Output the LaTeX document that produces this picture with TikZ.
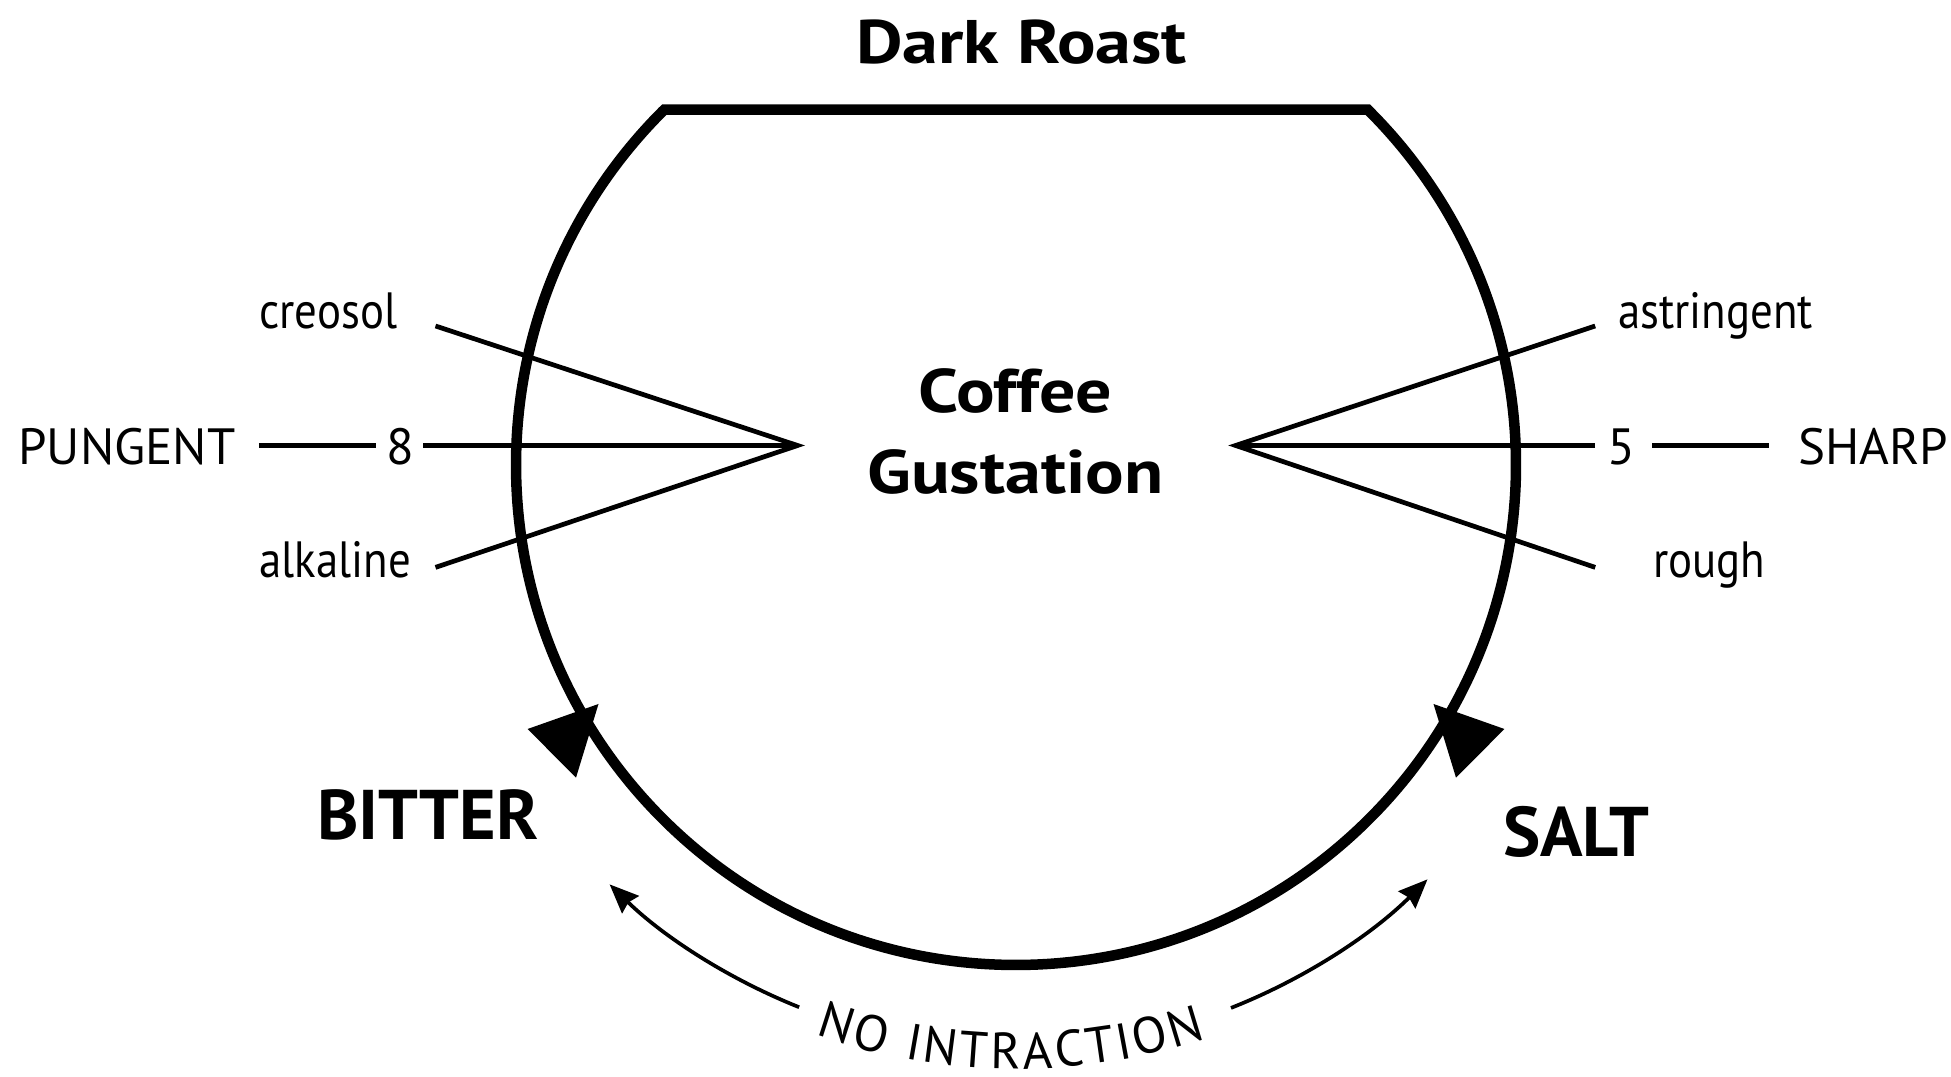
\documentclass[tikz,border=0pt]{standalone}
\usepackage{fontspec}
\setmainfont{PT Sans}
\newfontfamily\wideb[FakeStretch=1.17]{PT Sans}
\newfontfamily\narrowf[FakeStretch=0.88]{PT Sans}
\usetikzlibrary{arrows.meta,decorations.text,calc}
\begin{document}
\begin{tikzpicture}[
  body/.style={line width=0.105cm, line join=miter},
  conn/.style={line width=0.047cm},
  lbl/.style={font=\fontsize{14.5}{17}\selectfont, inner sep=0pt},
  sml/.style={font=\narrowf\fontsize{14.5}{17}\selectfont, inner sep=0pt},
  ttl/.style={font=\wideb\bfseries\fontsize{17.5}{20}\selectfont, inner sep=0pt},
  big/.style={font=\bfseries\fontsize{20}{24}\selectfont, inner sep=0pt},
  thinarrow/.style={line width=0.037cm, -{Stealth[length=0.29cm, width=0.24cm, inset=0.03cm]}},
  head/.style={fill=black},
]
\useasboundingbox (0,0) rectangle (19.51,10.77);
\coordinate (C) at (10.16,6.12);
% body outline
\draw[body] ($(C)+(134.7:5)$) arc[start angle=134.7, end angle=405.3, radius=5] -- cycle;

% apex points and line ends
\coordinate (LA) at (7.976,6.315);
\coordinate (RA) at (12.356,6.315);
\coordinate (lc) at (4.355,7.51);
\coordinate (la) at (4.355,5.096);
\coordinate (lm) at (4.23,6.315);
\coordinate (rc) at (15.952,7.51);
\coordinate (rr) at (15.952,5.096);
\coordinate (rm) at (15.952,6.315);
\coordinate (pl1) at (2.588,6.315);
\coordinate (pl2) at (3.758,6.315);
\coordinate (sr1) at (16.524,6.315);
\coordinate (sr2) at (17.694,6.315);

\draw[conn] (lc) -- (LA) -- (la);
\draw[conn] (lm) -- (LA);
\draw[conn] (pl1) -- (pl2);
\draw[conn] (rc) -- (RA) -- (rr);
\draw[conn] (rm) -- (RA);
\draw[conn] (sr1) -- (sr2);

% labels
\node[lbl, anchor=base] (pungent) at (1.27,6.12) {PUNGENT};
\node[lbl, anchor=base] (n8) at (4.007,6.12) {8};
\node[sml, anchor=base west] (creosol) at (2.588,7.485) {creosol};
\node[sml, anchor=base west] (alkaline) at (2.588,4.996) {alkaline};
\node[lbl, anchor=base] (sharp) at (18.733,6.12) {SHARP};
\node[lbl, anchor=base] (n5) at (16.213,6.12) {5};
\node[sml, anchor=base west] (astringent) at (16.176,7.485) {astringent};
\node[sml, anchor=base west] (rough) at (16.524,4.996) {rough};

\node[ttl, anchor=base] (coffee) at (10.154,6.64) {Coffee};
\node[ttl, anchor=base] (gust) at (10.154,5.83) {Gustation};
\node[ttl, anchor=base] (dark) at (10.216,10.135) {Dark Roast};
\node[big, anchor=base] (bitter) at (4.28,2.37) {BITTER};
\node[big, anchor=base] (salt) at (15.765,2.20) {SALT};

% big arrowheads on the body
\fill[head] (5.276,3.48) -- (5.985,3.73) -- (5.76,2.993) -- cycle;
\fill[head] (15.044,3.48) -- (14.335,3.73) -- (14.56,2.993) -- cycle;

% thin arrows
\coordinate (a1s) at ($(C)+(248.2:5.84)$);
\coordinate (a2s) at ($(C)+(291.6:5.84)$);
\draw[thinarrow] (a1s) arc[start angle=248.2, end angle=225.9, radius=5.84];
\draw[thinarrow] (a2s) arc[start angle=291.6, end angle=314.8, radius=5.84];

% curved text
\path[decorate, decoration={text along path,
   text={|\fontsize{14.5}{17}\selectfont|NO INTRACTION},
   text align={fit to path}}]
   ($(C)+(250.6:6.04)$) arc[start angle=250.6, end angle=288.4, radius=6.04];
\end{tikzpicture}
\end{document}
